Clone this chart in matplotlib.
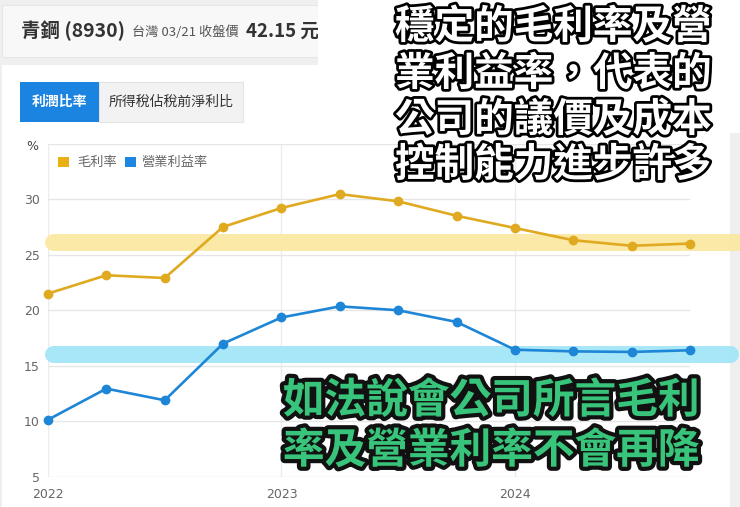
import matplotlib
matplotlib.use("Agg")
import matplotlib.pyplot as plt
import matplotlib.patheffects as pe
from matplotlib.patches import Rectangle, FancyBboxPatch
from matplotlib.lines import Line2D
import matplotlib.transforms as mtransforms

plt.rcParams['font.family'] = ['Noto Sans CJK TC', 'DejaVu Sans']

# ---------------- data ----------------
quarters = ['2022Q1', '2022Q2', '2022Q3', '2022Q4',
            '2023Q1', '2023Q2', '2023Q3', '2023Q4',
            '2024Q1', '2024Q2', '2024Q3', '2024Q4']
gross_margin = [21.5, 23.15, 22.9, 27.5, 29.2, 30.45, 29.8, 28.5, 27.4, 26.3, 25.8, 26.0]
operating_margin = [10.15, 12.95, 11.9, 17.0, 19.35, 20.35, 20.0, 18.95, 16.45, 16.3, 16.25, 16.4]
series_names = ['毛利率', '營業利益率']
year_ticks = [0, 4, 8]
year_labels = ['2022', '2023', '2024']
y_ticks = [5, 10, 15, 20, 25, 30]
band_levels = [26.1, 16.1]

title_main = '青鋼 (8930)'
title_sub = '台灣 03/21 收盤價'
title_price = '42.15 元'
tab_labels = ['利潤比率', '所得稅佔稅前淨利比']
caption_top = ['穩定的毛利率及營', '業利益率，代表的', '公司的議價及成本', '控制能力進步許多']
caption_bottom = ['如法說會公司所言毛利', '率及營業利率不會再降']

# ---------------- figure ----------------
W, H = 740, 507
fig = plt.figure(figsize=(W / 100, H / 100), dpi=100)
fig.patch.set_facecolor('#efefef')


def fx(x):
    return x / W


def fy(y):
    return 1 - y / H


def rect(x0, y0, x1, y1, fc, ec='none', z=-10, lw=0.8):
    r = Rectangle((fx(x0), fy(y1)), (x1 - x0) / W, (y1 - y0) / H,
                  transform=fig.transFigure, facecolor=fc, edgecolor=ec,
                  linewidth=lw, zorder=z)
    fig.add_artist(r)
    return r


# header card
rect(2, 5, 330, 57, '#f8f8f8', ec='#e6e6e6', z=-9)
# chart card
rect(2, 65, 730, 520, '#ffffff', z=-9)
# white overlay top-right (behind caption)
rect(318, 0, 742, 133, '#ffffff', z=-7)

# header texts
fig.text(fx(21), fy(31), title_main, fontsize=14, fontweight='bold', color='#333333',
         ha='left', va='center', zorder=-8)
fig.text(fx(132), fy(32), title_sub, fontsize=9.5, color='#555555',
         ha='left', va='center', zorder=-8)
fig.text(fx(246), fy(31), title_price, fontsize=13.5, fontweight='bold', color='#333333',
         ha='left', va='center', zorder=-8)

# tabs
rect(99, 82, 243, 122, '#f2f2f2', ec='#e4e4e4', z=-6)
rect(20, 82, 99, 122, '#1a84e0', z=-5)
fig.text(fx(59.5), fy(102), tab_labels[0], fontsize=10, fontweight='bold', color='white',
         ha='center', va='center', zorder=-4)
fig.text(fx(171), fy(102), tab_labels[1], fontsize=10, color='#333333',
         ha='center', va='center', zorder=-4)

# ---------------- chart ----------------
ax_l, ax_r, ax_t, ax_b = 48, 690, 143.5, 477
ax = fig.add_axes([fx(ax_l), fy(ax_b), (ax_r - ax_l) / W, (ax_b - ax_t) / H])
ax.set_facecolor('none')
x = list(range(len(quarters)))
ax.set_xlim(0, len(quarters) - 1)
ax.set_ylim(5, 35)
for s in ax.spines.values():
    s.set_visible(False)
ax.set_yticks(y_ticks + [35])
ax.set_yticklabels([str(v) for v in y_ticks] + [''])
ax.set_xticks(year_ticks)
ax.set_xticklabels(year_labels)
ax.tick_params(axis='both', length=0, labelsize=9, labelcolor='#666666')
ax.tick_params(axis='y', pad=6)
ax.tick_params(axis='x', pad=8)
for lab in ax.get_xticklabels() + ax.get_yticklabels():
    lab.set_family('DejaVu Sans')
ax.grid(True, axis='y', color='#e6e6e6', linewidth=1)
ax.grid(True, axis='x', color='#ececec', linewidth=1)
ax.set_axisbelow(True)

fig.text(fx(32), fy(147), '%', fontsize=9, color='#444444', ha='center', va='center',
         family='DejaVu Sans')

# highlight bands
btr = mtransforms.blended_transform_factory(fig.transFigure, ax.transData)
band_colors = ['#fbe8a2', '#a2e6f8']
band_ends = [760, 729.5]
for lvl, c, xe in zip(band_levels, band_colors, band_ends):
    ln = Line2D([fx(52.5), fx(xe)], [lvl, lvl], transform=btr, color=c, linewidth=12.2,
                solid_capstyle='round', alpha=0.95, zorder=1.5, clip_on=False)
    ax.add_artist(ln)

ax.plot(x, gross_margin, color='#e0aa20', linewidth=1.9, marker='o', markersize=6,
        zorder=3, clip_on=False)
ax.plot(x, operating_margin, color='#1e86d6', linewidth=1.9, marker='o', markersize=6,
        zorder=3, clip_on=False)

# legend (manual)
leg_colors = ['#e8b012', '#1c86e0']
leg_sq = [58, 125]
leg_tx = [77, 141]
for name, c, sx, tx in zip(series_names, leg_colors, leg_sq, leg_tx):
    rect(sx, 156.5, sx + 11, 166.5, c, z=2)
    fig.text(fx(tx), fy(162), name, fontsize=9.5, color='#666666', ha='left', va='center',
             zorder=2)

# ---------------- captions ----------------
top_y = [27, 74, 120, 165]
for line, yy in zip(caption_top, top_y):
    fig.text(fx(553.5), fy(yy), line, fontsize=28.5, fontweight='bold', color='white',
             ha='center', va='center', zorder=10,
             path_effects=[pe.withStroke(linewidth=4, foreground='black')])

bot_y = [401, 451]
for line, yy in zip(caption_bottom, bot_y):
    fig.text(fx(491), fy(yy), line, fontsize=30, fontweight='bold', color='#38c47a',
             ha='center', va='center', zorder=10,
             path_effects=[pe.withStroke(linewidth=6, foreground='#111111')])

fig.savefig('out.png', dpi=100, facecolor=fig.get_facecolor())
